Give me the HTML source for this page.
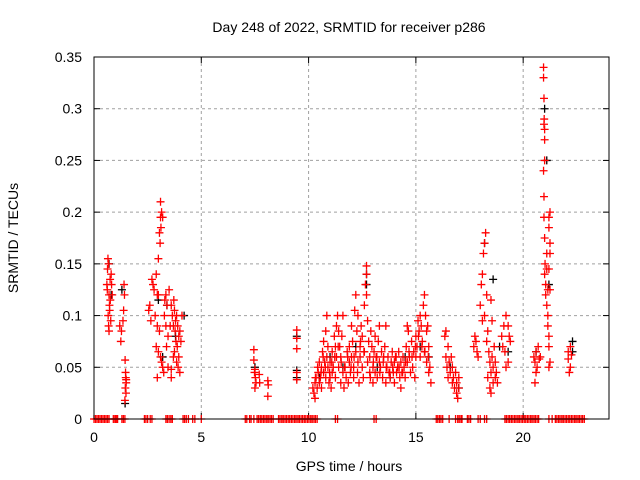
<!DOCTYPE html>
<html><head><meta charset="utf-8"><style>
body{margin:0;background:#fff}
svg{display:block;font-family:"Liberation Sans",sans-serif}
</style></head><body>
<svg id="chart" width="640" height="480">
<rect x="0" y="0" width="640" height="480" fill="#fff"/>
<text x="349" y="32" font-size="14" text-anchor="middle" fill="#000">Day 248 of 2022, SRMTID for receiver p286</text>
<text x="349" y="471" font-size="14" text-anchor="middle">GPS time / hours</text>
<text transform="translate(18,238) rotate(-90)" font-size="14" text-anchor="middle">SRMTID / TECUs</text>
<g id="grid"></g><g id="ticks"></g><g id="black"></g><g id="red"></g>
<rect x="94" y="57" width="515" height="362" fill="none" stroke="#000" stroke-width="1"/>
</svg>
<script>
const xTicks=[0,5,10,15,20];
const yTicks=[0,0.05,0.1,0.15,0.2,0.25,0.3,0.35];
const yTickLabels=["0","0.05","0.1","0.15","0.2","0.25","0.3","0.35"];
const zeroHours=[0,0.07,0.14,0.21,0.28,0.35,0.42,0.49,0.56,0.63,0.7,0.9,0.97,1.04,1.1,1.3,1.37,1.44,1.0,2.35,2.42,2.5,2.62,2.7,3.35,3.42,3.5,3.58,3.65,4.15,4.22,4.3,4.4,4.6,4.7,5.0,7.05,7.12,7.25,7.32,7.45,7.6,7.67,7.75,7.82,7.9,7.97,8.05,8.12,8.2,8.27,8.35,8.6,8.67,8.75,8.82,8.9,8.97,9.05,9.12,9.2,9.27,9.35,9.42,9.5,9.57,9.65,9.72,9.8,9.87,9.95,10.02,10.1,10.17,10.25,10.32,10.4,11.25,11.35,13.05,13.15,15.95,16.02,16.1,16.17,16.25,16.55,16.85,16.95,17.02,17.1,17.15,17.4,17.47,17.55,17.9,18.0,18.2,18.3,19.15,19.22,19.3,19.37,19.45,19.52,19.6,19.67,19.75,19.82,19.9,19.97,20.05,20.12,20.2,20.27,20.35,20.42,20.5,20.57,20.65,20.72,21.2,21.35,21.5,21.57,21.65,21.72,21.8,21.87,21.95,22.02,22.1,22.17,22.25,22.32,22.4,22.47,22.55,22.62,22.7,22.77,22.85];
const redHours=[0.6,0.65,0.68,0.7,0.62,0.75,0.8,0.72,0.66,0.78,0.7,0.82,0.63,0.76,0.85,0.73,0.68,1.2,1.28,1.35,1.4,1.42,1.38,1.25,1.45,1.48,1.5,1.46,1.49,1.44,1.47,1.5,
2.55,2.6,2.7,2.75,2.8,2.65,2.9,2.95,3.0,3.05,3.1,3.15,3.1,3.08,3.12,3.2,3.0,2.85,2.95,3.05,2.9,3.0,3.1,3.15,3.2,2.95,3.25,3.3,3.35,3.28,3.4,3.35,3.45,3.5,3.38,3.45,3.6,
3.6,3.65,3.7,3.72,3.75,3.8,3.78,3.85,3.9,3.82,3.88,3.95,4.0,4.05,4.1,3.7,3.85,3.92,4.0,3.75,3.95,3.6,3.55,
7.45,7.45,7.5,7.48,7.52,7.55,7.5,7.7,7.72,8.1,8.12,8.1,9.45,9.45,9.45,9.45,9.45,
10.2,10.25,10.3,10.3,10.35,10.4,10.45,10.5,10.5,10.55,10.6,10.6,10.65,10.7,10.7,10.75,10.8,10.8,10.85,10.85,10.9,10.9,10.95,11.0,11.0,11.05,11.1,11.1,11.15,11.2,11.25,11.25,11.3,11.3,11.35,11.4,11.4,11.45,11.5,11.5,11.55,11.6,11.6,11.65,11.7,11.75,11.8,11.85,11.9,11.9,11.95,12.0,12.0,12.05,12.1,12.1,12.15,12.2,12.2,12.25,12.3,12.3,12.35,12.4,12.4,12.45,12.5,12.5,12.55,12.6,12.6,12.65,12.7,12.7,12.7,12.75,12.75,12.8,12.85,12.85,12.9,12.95,13.0,13.0,13.05,13.1,13.1,13.15,13.2,13.25,13.3,13.3,13.35,13.4,13.45,13.5,13.55,13.6,13.6,13.65,13.7,13.75,13.8,13.85,13.9,13.95,14.0,14.0,14.05,14.1,14.15,14.2,14.25,14.3,14.3,14.35,14.4,14.45,14.5,14.55,14.6,14.6,14.65,14.7,14.75,14.8,14.85,14.9,14.95,15.0,15.0,15.05,15.1,15.15,15.2,15.2,15.25,15.3,15.35,15.4,15.4,15.45,15.5,15.5,15.55,15.6,15.6,15.65,15.7,
10.32,10.42,10.58,10.68,10.78,10.98,11.08,11.22,11.38,11.52,11.68,11.82,11.98,12.12,12.28,12.42,12.58,12.88,13.02,13.18,13.32,13.48,13.62,13.78,13.92,14.08,14.22,14.38,14.52,14.68,14.82,14.98,15.12,15.28,15.42,15.58,
16.35,16.4,16.4,16.45,16.5,16.5,16.55,16.6,16.65,16.7,16.7,16.75,16.8,16.85,16.9,16.9,16.95,17.0,17.0,
17.7,17.75,17.8,17.85,17.9,18.0,18.05,18.1,18.15,18.2,18.25,18.2,18.1,18.3,18.35,18.3,18.4,18.45,18.5,18.35,18.45,18.5,18.55,18.6,18.6,18.65,18.7,18.7,18.75,18.8,18.55,18.5,
19.0,19.05,19.1,19.15,19.2,19.3,19.35,19.4,19.3,19.2,
20.5,20.55,20.6,20.65,20.6,20.7,20.75,20.55,20.8,
20.95,20.95,20.97,20.98,21.0,21.0,20.97,21.0,20.95,20.97,20.97,21.0,21.02,21.0,21.05,21.05,21.1,21.1,21.1,21.15,21.2,21.25,21.2,21.25,21.25,21.2,21.25,21.2,21.15,21.2,21.25,21.2,21.15,
22.1,22.1,22.2,22.2,22.25,22.15];
const redValues=[0.13,0.155,0.15,0.12,0.125,0.135,0.14,0.11,0.1,0.095,0.085,0.13,0.145,0.115,0.12,0.105,0.09,0.09,0.085,0.095,0.13,0.12,0.105,0.075,0.057,0.04,0.035,0.03,0.025,0.018,0.045,0.038,
0.105,0.11,0.135,0.13,0.125,0.095,0.14,0.12,0.155,0.18,0.195,0.2,0.21,0.17,0.185,0.195,0.12,0.1,0.09,0.085,0.07,0.065,0.06,0.055,0.05,0.04,0.045,0.115,0.12,0.1,0.11,0.09,0.08,0.125,0.07,0.05,0.048,
0.11,0.1,0.09,0.115,0.105,0.095,0.085,0.1,0.09,0.075,0.07,0.08,0.085,0.075,0.1,0.06,0.055,0.05,0.045,0.065,0.06,0.04,0.09,
0.067,0.057,0.048,0.045,0.04,0.035,0.03,0.043,0.035,0.037,0.033,0.022,0.086,0.078,0.068,0.045,0.038,
0.03,0.025,0.035,0.02,0.04,0.03,0.045,0.035,0.055,0.04,0.05,0.03,0.065,0.045,0.075,0.055,0.085,0.04,0.1,0.06,0.07,0.05,0.035,0.04,0.055,0.03,0.045,0.065,0.05,0.08,0.07,0.04,0.09,0.06,0.1,0.085,0.05,0.07,0.06,0.035,0.08,0.045,0.1,0.03,0.05,0.04,0.065,0.035,0.055,0.07,0.045,0.06,0.09,0.075,0.05,0.04,0.105,0.12,0.065,0.085,0.055,0.1,0.035,0.07,0.06,0.09,0.05,0.08,0.04,0.11,0.065,0.13,0.148,0.14,0.12,0.095,0.055,0.075,0.045,0.06,0.085,0.07,0.05,0.035,0.065,0.08,0.045,0.06,0.04,0.075,0.055,0.09,0.05,0.065,0.04,0.06,0.07,0.035,0.09,0.05,0.06,0.045,0.04,0.055,0.065,0.045,0.035,0.055,0.06,0.045,0.05,0.065,0.04,0.055,0.03,0.045,0.06,0.05,0.04,0.07,0.055,0.09,0.085,0.06,0.045,0.075,0.05,0.065,0.04,0.06,0.08,0.07,0.095,0.085,0.06,0.1,0.09,0.075,0.11,0.12,0.065,0.1,0.085,0.055,0.09,0.07,0.045,0.05,0.035,
0.04,0.05,0.045,0.06,0.05,0.045,0.055,0.06,0.07,0.055,0.05,0.06,0.05,0.06,0.045,0.075,0.065,0.04,0.055,0.06,0.045,0.055,0.05,0.045,0.05,0.06,0.05,0.045,0.055,0.065,0.06,0.07,0.08,0.07,0.065,0.06,
0.08,0.085,0.06,0.05,0.07,0.04,0.055,0.045,0.06,0.035,0.05,0.04,0.03,0.045,0.025,0.035,0.02,0.04,0.03,
0.07,0.08,0.075,0.065,0.06,0.11,0.13,0.14,0.16,0.17,0.18,0.1,0.095,0.12,0.085,0.075,0.065,0.055,0.045,0.04,0.03,0.025,0.06,0.05,0.035,0.07,0.04,0.055,0.045,0.035,0.095,0.115,
0.08,0.07,0.09,0.065,0.1,0.09,0.08,0.075,0.055,0.05,
0.06,0.055,0.065,0.05,0.045,0.07,0.058,0.035,0.06,
0.34,0.33,0.31,0.29,0.28,0.27,0.285,0.25,0.24,0.215,0.195,0.175,0.15,0.14,0.13,0.12,0.145,0.16,0.11,0.125,0.195,0.2,0.185,0.17,0.16,0.145,0.125,0.08,0.09,0.07,0.055,0.05,0.1,
0.065,0.058,0.07,0.05,0.062,0.045];
const blackHours=[0.7,0.8,1.3,1.45,3.0,3.2,3.4,3.8,4.2,7.5,9.45,9.45,9.45,10.5,11.0,11.6,12.2,12.7,12.7,13.2,13.8,14.5,15.2,15.6,16.6,17.0,18.2,18.6,18.9,19.3,20.6,21.0,21.1,21.2,22.3,22.3];
const blackValues=[0.15,0.12,0.125,0.015,0.115,0.06,0.11,0.08,0.1,0.05,0.08,0.047,0.04,0.04,0.06,0.05,0.07,0.14,0.13,0.05,0.04,0.06,0.07,0.06,0.05,0.03,0.17,0.135,0.07,0.065,0.065,0.3,0.25,0.13,0.075,0.065];

const X0=94,X1=609,Y0=419,Y1=57;
const xs=h=>X0+h*(X1-X0)/24;
const ys=v=>Y0-v*(Y0-Y1)/0.35;
const NS="http://www.w3.org/2000/svg";
function mk(tag,attrs,parent){const e=document.createElementNS(NS,tag);for(const k in attrs)e.setAttribute(k,attrs[k]);parent.appendChild(e);return e;}
const grid=document.getElementById('grid'),ticks=document.getElementById('ticks');
xTicks.forEach(t=>{const x=xs(t);
 if(t>0){const g=mk('line',{x1:x,x2:x,y1:Y1,y2:Y0,stroke:'#a0a0a0','stroke-dasharray':'3,3'},grid);
 
 }
 const tk=mk('line',{x1:x,x2:x,y1:Y0,y2:Y0-6,stroke:'#000'},ticks);
 
 
 const tk2=mk('line',{x1:x,x2:x,y1:Y1,y2:Y1+6,stroke:'#000'},ticks);
 
 
 const l=mk('text',{x:x,y:Y0+23,'font-size':14,'text-anchor':'middle'},ticks);l.textContent=t;
 
 });
yTicks.forEach((t,i)=>{const y=ys(t);
 if(t>0&&t<0.35){const g=mk('line',{x1:X0,x2:X1,y1:y,y2:y,stroke:'#a0a0a0','stroke-dasharray':'3,3'},grid);
 
 }
 const tk=mk('line',{x1:X0,x2:X0+6,y1:y,y2:y,stroke:'#000'},ticks);
 
 
 const tk2=mk('line',{x1:X1,x2:X1-6,y1:y,y2:y,stroke:'#000'},ticks);
 
 
 const l=mk('text',{x:X0-12,y:y+5,'font-size':14,'text-anchor':'end'},ticks);l.textContent=yTickLabels[i];
 
 });
function plus(g,h,v,col){const x=xs(h),y=ys(v);
 const p=mk('path',{d:`M${x-4} ${y}H${x+4}M${x} ${y-4}V${y+4}`,stroke:col,'stroke-width':1.3,fill:'none'},g);
 
 }
const bg=document.getElementById('black'),rg=document.getElementById('red');
blackHours.forEach((h,i)=>plus(bg,h,blackValues[i],'#000'));
zeroHours.forEach(h=>plus(rg,h,0,'#f00'));
redHours.forEach((h,i)=>plus(rg,h,redValues[i],'#f00'));
</script>
</body></html>
